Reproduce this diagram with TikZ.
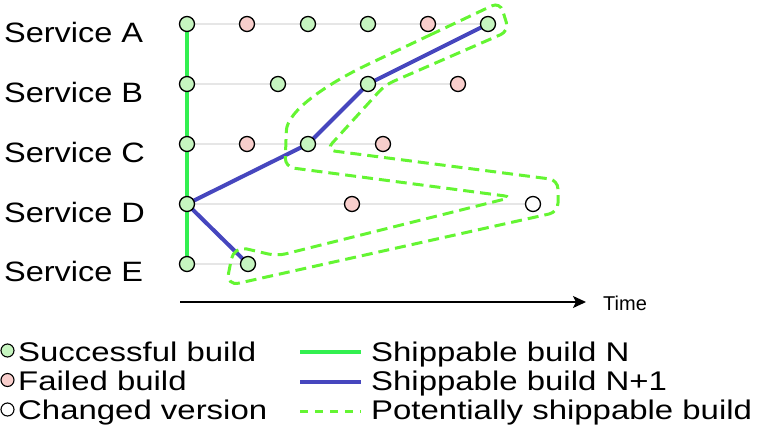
\documentclass[tikz,border=0pt]{standalone}
\usepackage{fontspec}
\usetikzlibrary{arrows.meta}
\newfontfamily\svcfont[FakeStretch=1.16]{Liberation Sans}
\newfontfamily\legfont[FakeStretch=1.22]{Liberation Sans}
\newfontfamily\timefont{Liberation Sans}
\definecolor{okfill}{RGB}{198,245,192}
\definecolor{failfill}{RGB}{248,206,204}
\definecolor{rowgray}{RGB}{230,230,230}
\definecolor{shipN}{RGB}{50,240,80}
\definecolor{shipNone}{RGB}{70,70,190}
\definecolor{potgreen}{RGB}{100,245,50}
\tikzset{
  build/.style={circle,draw=black,line width=1.3pt,minimum size=15pt,inner sep=0pt},
  ok/.style={build,fill=okfill},
  fail/.style={build,fill=failfill},
  chg/.style={build,fill=white},
  lbuild/.style={circle,draw=black,line width=1.1pt,minimum size=13pt,inner sep=0pt},
  rowline/.style={draw=rowgray,line width=2pt},
  nline/.style={draw=shipN,line width=4pt},
  n1line/.style={draw=shipNone,line width=4pt},
  potline/.style={draw=potgreen,line width=3pt,dash pattern=on 11pt off 6pt},
  svclabel/.style={anchor=base west,inner sep=0pt,font=\svcfont\fontsize{28}{30}\selectfont},
  leglabel/.style={anchor=base west,inner sep=0pt,font=\legfont\fontsize{27}{29}\selectfont},
}
\begin{document}
\begin{tikzpicture}[x=1pt,y=-1pt]
\useasboundingbox (0,0) rectangle (782,429);
% service labels
\node[svclabel] (la) at (4,42.5) {Service A};
\node[svclabel] (lb) at (4,102.5) {Service B};
\node[svclabel] (lc) at (4,162.5) {Service C};
\node[svclabel] (ld) at (4,222) {Service D};
\node[svclabel] (le) at (4,281) {Service E};
% coordinates of builds
\coordinate (pa1) at (187,24); \coordinate (pa2) at (247,24); \coordinate (pa3) at (308,24);
\coordinate (pa4) at (368,24); \coordinate (pa5) at (428,24); \coordinate (pa6) at (488,24);
\coordinate (pb1) at (187,84); \coordinate (pb2) at (278,84); \coordinate (pb3) at (368,84); \coordinate (pb4) at (458,84);
\coordinate (pc1) at (187,144); \coordinate (pc2) at (247,144); \coordinate (pc3) at (308,144); \coordinate (pc4) at (383,144);
\coordinate (pd1) at (187,204); \coordinate (pd2) at (352,204); \coordinate (pd3) at (533,204);
\coordinate (pe1) at (187,264); \coordinate (pe2) at (248,264);
% row lines
\draw[rowline] (pa1) -- (pa6);
\draw[rowline] (pb1) -- (pb4);
\draw[rowline] (pc1) -- (pc4);
\draw[rowline] (pd1) -- (pd3);
\draw[rowline] (pe1) -- (pe2);
% shippable build N
\draw[nline] (pa1) -- (pe1);
% shippable build N+1
\draw[n1line,line join=round] (pd1) -- (pc3) -- (pb3) -- (pa6);
\draw[n1line] (pd1) -- (pe2);
% potentially shippable build outline
\draw[potline] (430,35) [rounded corners=9pt] -- (500,2) -- (509,31) -- (385,85) -- (326,150)
  -- (558,180) -- (558,212) [rounded corners=13pt] -- (226,286) -- (234,246) [rounded corners=9pt] -- (277,256) -- (513,197)
  -- (285,167) -- (286,140) [sharp corners] .. controls (287,110) and (330,82) .. (373,62) -- cycle;
% build nodes
\node[ok] (a1) at (pa1) {}; \node[fail] (a2) at (pa2) {}; \node[ok] (a3) at (pa3) {};
\node[ok] (a4) at (pa4) {}; \node[fail] (a5) at (pa5) {}; \node[ok] (a6) at (pa6) {};
\node[ok] (b1) at (pb1) {}; \node[ok] (b2) at (pb2) {}; \node[ok] (b3) at (pb3) {}; \node[fail] (b4) at (pb4) {};
\node[ok] (c1) at (pc1) {}; \node[fail] (c2) at (pc2) {}; \node[ok] (c3) at (pc3) {}; \node[fail] (c4) at (pc4) {};
\node[ok] (d1) at (pd1) {}; \node[fail] (d2) at (pd2) {}; \node[chg] (d3) at (pd3) {};
\node[ok] (e1) at (pe1) {}; \node[ok] (e2) at (pe2) {};
% time axis
\coordinate (t0) at (180,302);
\node[anchor=base west,inner sep=0pt,font=\timefont\fontsize{20}{22}\selectfont] (time) at (603,310.5) {Time};
\coordinate (t1) at (586,302);
\draw[line width=1.5pt,-{Stealth[length=13pt,width=12pt,inset=3pt]}] (t0) -- (t1);
% legend left
\node[lbuild,fill=okfill] (lg1) at (7.5,350.5) {};
\node[lbuild,fill=failfill] (lg2) at (7.5,380) {};
\node[lbuild,fill=white] (lg3) at (7.5,409.5) {};
\node[leglabel] (lt1) at (18,361.5) {Successful build};
\node[leglabel] (lt2) at (18,390.5) {Failed build};
\node[leglabel] (lt3) at (18,419.5) {Changed version};
% legend right
\coordinate (ls1) at (300,351.5); \coordinate (le1) at (361,351.5);
\coordinate (ls2) at (300,381.5); \coordinate (le2) at (361,381.5);
\coordinate (ls3) at (300,411.5); \coordinate (le3) at (361,411.5);
\draw[nline] (ls1) -- (le1);
\draw[n1line] (ls2) -- (le2);
\draw[draw=potgreen,line width=3pt,dash pattern=on 8pt off 7pt] (ls3) -- (le3);
\node[leglabel] (lt4) at (371,361.5) {Shippable build N};
\node[leglabel] (lt5) at (371,390.5) {Shippable build N+1};
\node[leglabel] (lt6) at (371,419.5) {Potentially shippable build};
\end{tikzpicture}
\end{document}
